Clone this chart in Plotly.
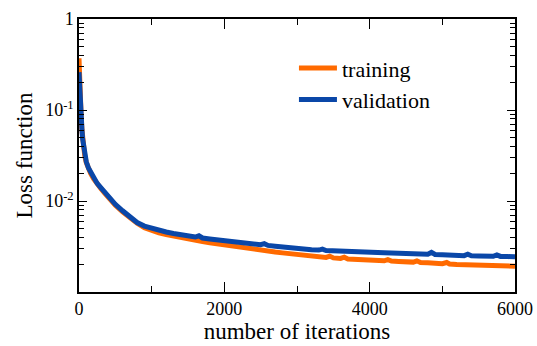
import plotly.graph_objects as go

# Loss curves recorded during training (iteration, loss)
train_iter = [0, 5, 10, 15, 20, 30, 40, 50, 60, 80, 100, 130, 160, 200, 250, 300,
              350, 400, 450, 500, 600, 700, 800, 900, 1000, 1100, 1200, 1300, 1400,
              1500, 1600, 1700, 1800, 1900, 2000, 2100, 2200, 2300, 2400, 2500, 2600,
              2700, 2800, 2900, 3000, 3100, 3200, 3300, 3400, 3450, 3500, 3600, 3650,
              3700, 3800, 3900, 4000, 4100, 4200, 4250, 4300, 4400, 4500, 4600, 4650,
              4700, 4800, 4900, 5000, 5060, 5100, 5200, 5300, 5400, 5420, 5500, 5600,
              5700, 5800, 5900, 6000]
train_loss = [0.37, 0.24, 0.16, 0.125, 0.105, 0.083, 0.061, 0.047, 0.040, 0.031, 0.0265,
              0.0226, 0.0201, 0.0176, 0.0153, 0.0137, 0.0123, 0.0110, 0.0099, 0.0090,
              0.0076, 0.0065, 0.0057, 0.0051, 0.00470, 0.00448, 0.00428, 0.00411,
              0.00396, 0.00382, 0.00370, 0.00359, 0.00348, 0.00338, 0.00328, 0.00319,
              0.00311, 0.00303, 0.00296, 0.00289, 0.00282, 0.00275, 0.00269, 0.00263,
              0.00257, 0.00252, 0.00248, 0.00244, 0.00240, 0.00248, 0.00237, 0.00234,
              0.00241, 0.00231, 0.00228, 0.00226, 0.00224, 0.00222, 0.00220, 0.00227,
              0.00219, 0.00217, 0.00215, 0.00213, 0.00220, 0.00211, 0.00209, 0.00207,
              0.00205, 0.00211, 0.00203, 0.00201, 0.00200, 0.00198, 0.00204, 0.00197,
              0.00196, 0.00195, 0.00194, 0.00193, 0.00192]

val_iter = [0, 5, 10, 15, 20, 30, 40, 50, 60, 80, 100, 130, 160, 200, 250, 300,
            350, 400, 450, 500, 600, 700, 800, 900, 1000, 1100, 1200, 1300, 1400,
            1500, 1600, 1650, 1700, 1800, 1900, 2000, 2100, 2200, 2300, 2400, 2500,
            2550, 2600, 2700, 2800, 2900, 3000, 3100, 3200, 3300, 3350, 3400, 3500,
            3600, 3700, 3800, 3900, 4000, 4100, 4200, 4300, 4400, 4500, 4600, 4700,
            4800, 4850, 4900, 5000, 5100, 5200, 5300, 5350, 5400, 5500, 5600, 5700,
            5750, 5800, 5900, 6000]
val_loss = [0.26, 0.20, 0.15, 0.12, 0.105, 0.085, 0.062, 0.048, 0.041, 0.032, 0.027,
            0.023, 0.0205, 0.0180, 0.0156, 0.0140, 0.0126, 0.0112, 0.0101, 0.0092,
            0.0078, 0.0066, 0.0058, 0.0053, 0.00500, 0.00478, 0.00456, 0.00440,
            0.00426, 0.00413, 0.00402, 0.00414, 0.00392, 0.00383, 0.00374, 0.00367,
            0.00360, 0.00352, 0.00345, 0.00338, 0.00331, 0.00340, 0.00325, 0.00319,
            0.00312, 0.00306, 0.00300, 0.00296, 0.00292, 0.00289, 0.00296, 0.00286,
            0.00283, 0.00281, 0.00279, 0.00277, 0.00275, 0.00273, 0.00271, 0.00270,
            0.00269, 0.00268, 0.00266, 0.00264, 0.00262, 0.00260, 0.00272, 0.00258,
            0.00256, 0.00254, 0.00253, 0.00251, 0.00260, 0.00250, 0.00249, 0.00248,
            0.00247, 0.00256, 0.00246, 0.00245, 0.00244]

y_tickvals = [0.01, 0.1, 1]
y_ticktext = ["10<sup>-2</sup>", "10<sup>-1</sup>", "1"]
y_minor_vals = [m * d for d in (0.001, 0.01, 0.1) for m in range(2, 10)]
x_tickvals = [0, 2000, 4000, 6000]
x_minor_vals = [1000, 3000, 5000]

ORANGE = "#ff6a00"
BLUE = "#0a47a8"
FONT = "Liberation Serif, Times New Roman, Times, serif"

fig = go.Figure()
fig.add_trace(go.Scatter(x=train_iter, y=train_loss, mode="lines", name="training",
                         line=dict(color=ORANGE, width=5)))
fig.add_trace(go.Scatter(x=val_iter, y=val_loss, mode="lines", name="validation",
                         line=dict(color=BLUE, width=5)))

axis_common = dict(showline=True, linecolor="black", linewidth=1.5, mirror="ticks",
                   ticks="inside", tickcolor="black", showgrid=False, zeroline=False,
                   automargin=False,
                   tickfont=dict(family=FONT, size=18, color="black"))

fig.update_xaxes(range=[0, 6000], tickvals=x_tickvals, ticklen=10, tickwidth=1.2,
                 title=dict(text="number of iterations", font=dict(family=FONT, size=23, color="black"),
                            standoff=5),
                 minor=dict(ticks="inside", tickvals=x_minor_vals, ticklen=6,
                            tickcolor="black", tickwidth=1.2),
                 **axis_common)
fig.update_yaxes(type="log", range=[-3, 0], tickvals=y_tickvals, ticktext=y_ticktext,
                 ticklen=8, tickwidth=1.2,
                 title=dict(text="Loss function", font=dict(family=FONT, size=23, color="black"),
                            standoff=6),
                 minor=dict(ticks="inside", tickvals=y_minor_vals, ticklen=5,
                            tickcolor="black", tickwidth=1.2),
                 **axis_common)

fig.update_layout(
    width=537, height=346,
    margin=dict(l=79, r=22, t=19, b=54),
    paper_bgcolor="white", plot_bgcolor="white",
    font=dict(family=FONT, color="black"),
    legend=dict(x=0.493, y=0.897, xanchor="left", yanchor="top",
                font=dict(family=FONT, size=22, color="black"),
                bgcolor="rgba(0,0,0,0)", itemwidth=38, tracegroupgap=0),
)

fig.write_html("out.html")
